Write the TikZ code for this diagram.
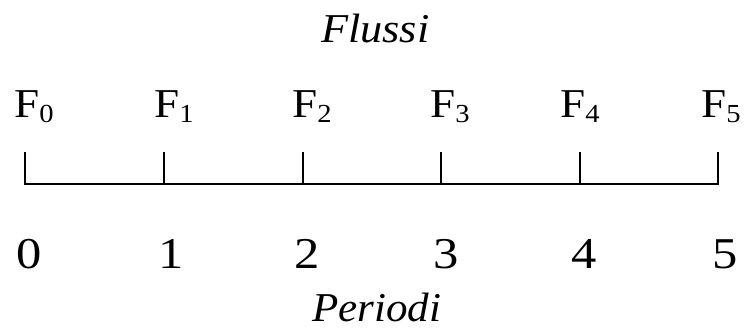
\documentclass[tikz,border=0pt]{standalone}
\usepackage{fontspec}
\setmainfont{Liberation Serif}
\begin{document}
\begin{tikzpicture}[x=1pt,y=-1pt,
  axisline/.style={line width=2.8pt,line cap=rect},
  flab/.style={anchor=base west,inner sep=0pt,xscale=1.1,font=\fontsize{41}{44}\selectfont},
  nlab/.style={anchor=base,inner sep=0pt,xscale=1.15,font=\fontsize{44}{46}\selectfont},
  ttl/.style={anchor=base west,inner sep=0pt,font=\fontsize{41}{44}\selectfont\itshape}]
\useasboundingbox (0,0) rectangle (744,331);
\newcommand{\fsub}[1]{F\raisebox{-5pt}{\fontsize{26}{28}\selectfont #1}}
\node[ttl,xscale=1.08] (flussi) at (321,43) {Flussi};
\node[ttl,xscale=1.05] (periodi) at (312,321) {Periodi};
\foreach \i/\x/\fx/\nx in {0/25/14/29,1/164/154/171,2/303/292/307,3/441/430/446,4/580/560/584,5/718/701/725}{
  \coordinate (t\i) at (\x,152);
  \coordinate (b\i) at (\x,184);
  \node[flab] (f\i) at (\fx,118) {\fsub{\i}};
  \node[nlab] (n\i) at (\nx,268) {\i};
}
\draw[axisline] (b0) -- (b5);
\foreach \i in {0,...,5}{\draw[axisline,line cap=butt] (b\i) -- (t\i);}
\end{tikzpicture}
\end{document}
